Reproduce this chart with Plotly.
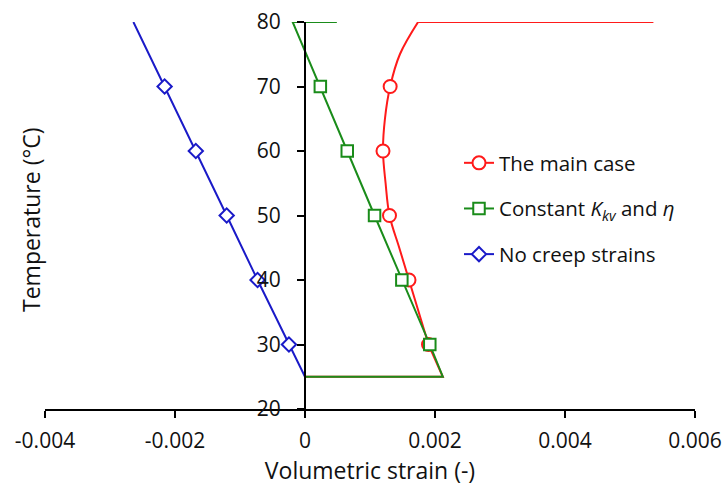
import plotly.graph_objects as go

# ---- data ----
temp_markers = [30, 40, 50, 60, 70]
main_case_markers = [0.00190, 0.00160, 0.00130, 0.00120, 0.00131]
constant_markers = [0.00192, 0.00149, 0.00107, 0.00065, 0.000236]
no_creep_markers = [-0.000247, -0.00073, -0.001205, -0.00168, -0.00216]

# full paths (lines)
main_low_temp = [25, 25, 30]
main_low_strain = [0.0, 0.00212, 0.00190]
main_curve_temp = [30, 35, 40, 45, 50, 55, 60, 65, 70, 75, 80]
main_curve_strain = [0.00190, 0.00175, 0.00160, 0.00145, 0.00130, 0.00124,
                     0.00120, 0.00123, 0.00131, 0.00146, 0.00174]
main_top_temp = [80, 80]
main_top_strain = [0.00174, 0.00536]

constant_temp = [25, 25, 30, 40, 50, 60, 70, 80, 80]
constant_strain = [0.0, 0.00212, 0.00192, 0.00149, 0.00107, 0.00065, 0.000236,
                   -0.00019, 0.00049]

no_creep_temp = [25, 30, 40, 50, 60, 70, 80]
no_creep_strain = [0.0, -0.000247, -0.00073, -0.001205, -0.00168, -0.00216, -0.00264]

x_tickvals = [-0.004, -0.002, 0, 0.002, 0.004, 0.006]
x_ticktext = ["-0.004", "-0.002", "0", "0.002", "0.004", "0.006"]
y_tickvals = [20, 30, 40, 50, 60, 70, 80]

names = ["The main case", "Constant <i>K</i><sub><i>kv</i></sub> and <i>η</i>", "No creep strains"]

RED = "#FF1A1A"
GREEN = "#1A8C1A"
BLUE = "#1A1AC8"
FONT = "Open Sans"
TXT = "#111111"

fig = go.Figure()

def line_trace(x, y, color, group, shape="linear"):
    return go.Scatter(x=x, y=y, mode="lines", line=dict(color=color, width=2, shape=shape),
                      showlegend=False, legendgroup=group, hoverinfo="skip")

def marker_trace(x, y, color, symbol, size, group):
    return go.Scatter(x=x, y=y, mode="markers",
                      marker=dict(symbol=symbol, size=size, color="white",
                                  line=dict(color=color, width=2)),
                      showlegend=False, legendgroup=group)

def legend_trace(name, color, symbol, size, group):
    return go.Scatter(x=[None], y=[None], mode="lines+markers", name=name,
                      line=dict(color=color, width=2),
                      marker=dict(symbol=symbol, size=size, color="white",
                                  line=dict(color=color, width=2)),
                      legendgroup=group)

# main case (red)
fig.add_trace(line_trace(main_low_strain, main_low_temp, RED, "g1"))
fig.add_trace(line_trace(main_curve_strain, main_curve_temp, RED, "g1", shape="spline"))
fig.add_trace(line_trace(main_top_strain, main_top_temp, RED, "g1"))
fig.add_trace(marker_trace(main_case_markers, temp_markers, RED, "circle", 13, "g1"))
fig.add_trace(legend_trace(names[0], RED, "circle", 13, "g1"))

# constant (green)
fig.add_trace(line_trace(constant_strain, constant_temp, GREEN, "g2"))
fig.add_trace(marker_trace(constant_markers, temp_markers, GREEN, "square", 11.5, "g2"))
fig.add_trace(legend_trace(names[1], GREEN, "square", 11.5, "g2"))

# no creep (blue)
fig.add_trace(line_trace(no_creep_strain, no_creep_temp, BLUE, "g3"))
fig.add_trace(marker_trace(no_creep_markers, temp_markers, BLUE, "diamond", 11, "g3"))
fig.add_trace(legend_trace(names[2], BLUE, "diamond", 11, "g3"))

ml, mr, mt, mb = 45, 30, 22, 83
W, H = 725, 492
pw = W - ml - mr
ph = H - mt - mb

fig.update_layout(
    width=W, height=H,
    margin=dict(l=ml, r=mr, t=mt, b=mb, pad=0, autoexpand=False),
    paper_bgcolor="white", plot_bgcolor="white",
    font=dict(family=FONT, size=21, color=TXT),
    showlegend=True,
    legend=dict(x=(459 - ml) / pw, y=(409 - 143) / ph, xanchor="left", yanchor="top",
                bgcolor="rgba(0,0,0,0)", traceorder="grouped", tracegroupgap=16,
                font=dict(family=FONT, size=20.5, color=TXT)),
    xaxis=dict(range=[-0.004, 0.006], tickvals=x_tickvals, ticktext=x_ticktext,
               showline=True, linecolor="#000000", linewidth=2, automargin=False,
               ticks="outside", ticklen=7, tickwidth=2, tickcolor="#000000",
               showgrid=False, zeroline=False, ticklabelstandoff=5,
               tickfont=dict(family=FONT, size=21, color=TXT),
               title=dict(text="Volumetric strain (-)", standoff=8,
                          font=dict(family=FONT, size=23, color=TXT))),
    yaxis=dict(range=[20, 80], tickvals=y_tickvals, anchor="free", position=0.4,
               showline=True, linecolor="#000000", linewidth=2, automargin=False,
               ticks="outside", ticklen=7, tickwidth=2, tickcolor="#000000",
               showgrid=False, zeroline=False, ticklabelstandoff=12,
               tickfont=dict(family=FONT, size=21, color=TXT)),
    annotations=[dict(text="Temperature (°C)", xref="paper", yref="paper",
                      x=(31 - ml) / pw, y=(409 - 220) / ph, xanchor="center", yanchor="middle",
                      textangle=-90, showarrow=False,
                      font=dict(family=FONT, size=23, color=TXT))],
)

fig.write_html("out.html")
